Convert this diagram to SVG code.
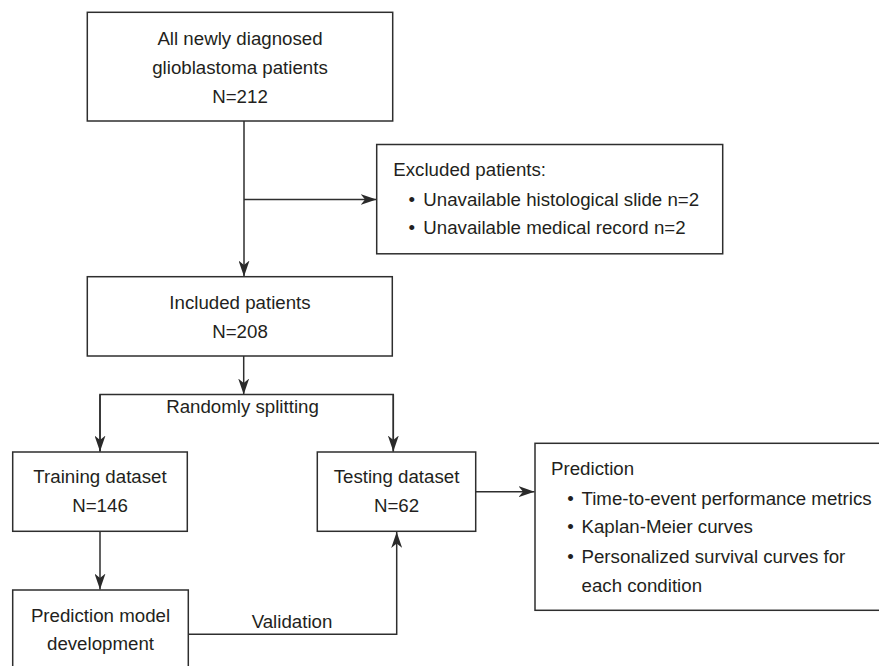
<svg xmlns="http://www.w3.org/2000/svg" width="879" height="666" viewBox="0 0 879 666">
<defs>
<style>
.box{fill:#fff;stroke:#2e2e2e;stroke-width:1.5}
.ln{fill:none;stroke:#2e2e2e;stroke-width:1.5}
.t{font-family:"Liberation Sans",Arial,sans-serif;font-size:18.7px;fill:#231f20}
.c{text-anchor:middle}
</style>
<marker id="arr" viewBox="0 0 16 11" refX="16" refY="5.5" markerWidth="16" markerHeight="11" orient="auto" markerUnits="userSpaceOnUse">
<path d="M0,0 L16,5.5 L0,11 L4.5,5.5 Z" fill="#2a2a2a"/>
</marker>
</defs>
<rect width="879" height="666" fill="#fff"/>
<g id="connectors">
<line class="ln" x1="244" y1="121" x2="244" y2="276.5" marker-end="url(#arr)"/>
<line class="ln" x1="244" y1="199.5" x2="376.5" y2="199.5" marker-end="url(#arr)"/>
<line class="ln" x1="243.7" y1="356" x2="243.7" y2="394.5" marker-end="url(#arr)"/>
<polyline class="ln" points="100,451.5 100,394.5 393.3,394.5 393.3,451.5"/>
<line class="ln" x1="100" y1="394.5" x2="100" y2="451.5" marker-end="url(#arr)"/>
<line class="ln" x1="393.3" y1="394.5" x2="393.3" y2="451.5" marker-end="url(#arr)"/>
<line class="ln" x1="100" y1="531.3" x2="100" y2="589.5" marker-end="url(#arr)"/>
<polyline class="ln" points="188.3,634.3 396.7,634.3 396.7,532" marker-end="url(#arr)"/>
<line class="ln" x1="475.7" y1="491.7" x2="534.5" y2="491.7" marker-end="url(#arr)"/>
<text class="t c" x="242.5" y="413.3">Randomly splitting</text>
<text class="t c" x="292" y="627.7">Validation</text>
</g>
<g id="all-patients">
<rect class="box" x="87.3" y="12.3" width="305.4" height="108.7"/>
<text class="t c" x="240" y="44.7">All newly diagnosed</text>
<text class="t c" x="240" y="74">glioblastoma patients</text>
<text class="t c" x="240" y="103.3">N=212</text>
</g>
<g id="excluded">
<rect class="box" x="376.7" y="144.5" width="346" height="109.3"/>
<text class="t" x="393.3" y="176">Excluded patients:</text>
<text class="t" x="408.5" y="206">•</text>
<text class="t" x="423.3" y="206">Unavailable histological slide n=2</text>
<text class="t" x="408.5" y="234.3">•</text>
<text class="t" x="423.3" y="234.3">Unavailable medical record n=2</text>
</g>
<g id="included">
<rect class="box" x="87.3" y="276.7" width="305" height="79.3"/>
<text class="t c" x="240" y="309.3">Included patients</text>
<text class="t c" x="240" y="338.3">N=208</text>
</g>
<g id="training">
<rect class="box" x="12.7" y="452" width="174.6" height="79.3"/>
<text class="t c" x="100" y="483.3">Training dataset</text>
<text class="t c" x="100" y="512.3">N=146</text>
</g>
<g id="testing">
<rect class="box" x="317.3" y="452" width="158.4" height="79.3"/>
<text class="t c" x="396.5" y="483.3">Testing dataset</text>
<text class="t c" x="396.5" y="512.3">N=62</text>
</g>
<g id="model">
<rect class="box" x="12.7" y="590" width="175.6" height="90"/>
<text class="t c" x="100.5" y="621.7">Prediction model</text>
<text class="t c" x="100.5" y="650">development</text>
</g>
<g id="prediction">
<rect class="box" x="535" y="443.3" width="360" height="167"/>
<text class="t" x="551" y="475">Prediction</text>
<text class="t" x="567.3" y="505">•</text>
<text class="t" x="581.5" y="505">Time-to-event performance metrics</text>
<text class="t" x="567.3" y="533.3">•</text>
<text class="t" x="581.5" y="533.3">Kaplan-Meier curves</text>
<text class="t" x="567.3" y="563.3">•</text>
<text class="t" x="581.5" y="563.3">Personalized survival curves for</text>
<text class="t" x="581.5" y="591.7">each condition</text>
</g>
</svg>
